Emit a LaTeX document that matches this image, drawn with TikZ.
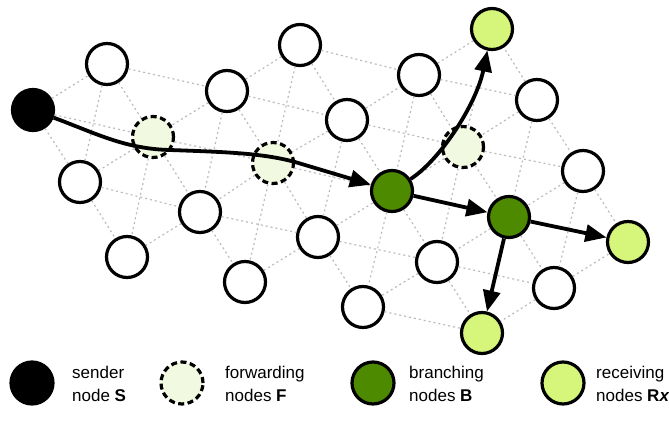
\documentclass[tikz,border=0pt]{standalone}
\usepackage{fontspec}
\setmainfont{Liberation Sans}
\usetikzlibrary{arrows.meta}
\definecolor{fwdfill}{HTML}{F1F9E0}
\definecolor{brfill}{HTML}{4E8A00}
\definecolor{rxfill}{HTML}{D5F67A}
\definecolor{meshgrey}{HTML}{BBBBBB}
\begin{document}
\begin{tikzpicture}[x=1pt,y=-1pt,
  peer/.style={circle, draw=black, line width=3.2pt, minimum size=41pt, inner sep=0pt, fill=white},
  sender/.style={peer, fill=black},
  fwd/.style={peer, fill=fwdfill, dash pattern=on 6pt off 3.5pt},
  branch/.style={peer, fill=brfill},
  rx/.style={peer, fill=rxfill},
  mesh/.style={draw=meshgrey, line width=1.2pt, dash pattern=on 2pt off 3pt},
  flow/.style={draw=black, line width=3.8pt, -{Triangle[length=21pt,width=17pt]}},
  legtext/.style={anchor=west, align=left, font=\fontsize{17}{23}\selectfont, inner sep=0pt}
]
\useasboundingbox (0,0) rectangle (669,423);

% network nodes
\node[sender] (S)  at (33,110) {};
\node[peer]   (a)  at (107,64) {};
\node[fwd]    (F1) at (153,137) {};
\node[peer]   (b)  at (227,91) {};
\node[peer]   (c)  at (300,45) {};
\node[peer]   (d)  at (347,120) {};
\node[fwd]    (F2) at (273,163) {};
\node[peer]   (e)  at (80,182) {};
\node[peer]   (f)  at (200,212) {};
\node[peer]   (g)  at (127,257) {};
\node[peer]   (h)  at (245,282) {};
\node[peer]   (i)  at (318,237) {};
\node[branch] (B1) at (392,191) {};
\node[branch] (B2) at (509,217) {};
\node[peer]   (j)  at (437,262) {};
\node[peer]   (k)  at (363,307) {};
\node[peer]   (l)  at (554,288) {};
\node[rx]     (R2) at (628,242) {};
\node[rx]     (R3) at (482,333) {};
\node[peer]   (m)  at (583,171) {};
\node[peer]   (n)  at (419,75) {};
\node[peer]   (o)  at (537,100) {};
\node[fwd]    (F3) at (463,147) {};
\node[rx]     (R1) at (492,29) {};

% neighbourhood links
\foreach \u/\v in {S/a, S/F1, S/e, a/b, a/F1, a/e, b/c, b/d, b/F1, b/F2, b/f,
  c/n, c/d, c/F2, d/n, d/F2, d/F3, d/B1, d/i, n/R1, n/o, n/F3, n/B1,
  o/R1, o/F3, o/m, o/B2, F3/R1, F3/m, F3/j, F3/B2, F3/B1, m/R2, m/l, m/B2,
  F1/F2, F1/e, F1/f, F1/g, F2/f, F2/h, F2/i, F2/B1, e/f, e/g, f/g, f/i, f/h,
  h/i, i/B1, i/j, i/k, B1/j, B1/k, B1/B2, B2/j, B2/l, B2/R2, B2/R3,
  j/k, j/R3, j/l, k/R3, l/R2, l/R3}
  \draw[mesh] (\u) -- (\v);

% multicast delivery paths
\coordinate (w1) at (170,150);
\coordinate (w2) at (295,162);
\draw[flow] (S) .. controls (95,133) and (125,149) .. (w1)
  .. controls (225,152) and (262,153) .. (w2) -- (B1);
\draw[flow] (B1) .. controls (440,160) and (476,105) .. (R1);
\draw[flow] (B1) -- (B2);
\draw[flow] (B2) -- (R2);
\draw[flow] (B2) -- (R3);

% legend
\node[sender, minimum size=42pt] (lgS) at (32,383) {};
\node[legtext] (lgSt) at (72,384) {sender\\node \textbf{S}};
\node[fwd, minimum size=42pt] (lgF) at (182,383) {};
\node[legtext] (lgFt) at (225,384) {forwarding\\nodes \textbf{F}};
\node[branch, minimum size=42pt] (lgB) at (373,383) {};
\node[legtext] (lgBt) at (409,384) {branching\\nodes \textbf{B}};
\node[rx, minimum size=42pt] (lgR) at (563,383) {};
\node[legtext] (lgRt) at (596,384) {receiving\\nodes \textbf{R\textit{x}}};
\end{tikzpicture}
\end{document}
